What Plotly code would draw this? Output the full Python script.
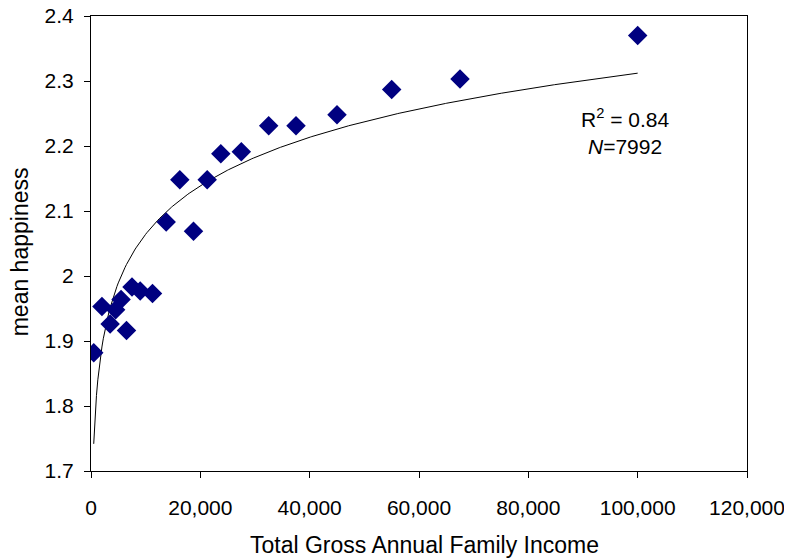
import numpy as np
import plotly.graph_objects as go

income = [500, 2000, 3500, 4500, 5500, 6500, 7500, 9000, 11250, 13750, 16250,
          18750, 21250, 23750, 27500, 32500, 37500, 45000, 55000, 67500, 100000]
happiness = [1.882, 1.953, 1.926, 1.948, 1.964, 1.916, 1.983, 1.977, 1.973, 2.083, 2.148,
             2.069, 2.148, 2.188, 2.191, 2.231, 2.231, 2.248, 2.287, 2.303, 2.370]
x_ticks = [0, 20000, 40000, 60000, 80000, 100000, 120000]
x_tick_labels = ["0", "20,000", "40,000", "60,000", "80,000", "100,000", "120,000"]
y_ticks = [1.7, 1.8, 1.9, 2.0, 2.1, 2.2, 2.3, 2.4]
y_tick_labels = ["1.7", "1.8", "1.9", "2", "2.1", "2.2", "2.3", "2.4"]

# logarithmic trendline fitted to the data
xa = np.array(income, dtype=float)
ya = np.array(happiness)
a, b = np.polyfit(np.log(xa), ya, 1)
xf = np.linspace(xa.min(), xa.max(), 400)
yf = a * np.log(xf) + b

FONT = "Liberation Sans, Arial, sans-serif"
OFF = 8  # page body margin
L, R, T, B = 90.7 - OFF, 746.7 - OFF, 16 - OFF, 471 - OFF
W, H = 792 - OFF, 558 - OFF
pw, ph = R - L, B - T

fig = go.Figure()
fig.add_trace(go.Scatter(x=xf, y=yf, mode="lines",
                         line=dict(color="black", width=1), hoverinfo="skip"))
fig.add_trace(go.Scatter(x=income, y=happiness, mode="markers",
                         marker=dict(symbol="diamond", size=15, color="#000080",
                                     line=dict(width=0))))

fig.add_annotation(x=(625 - OFF - L) / pw, y=(B - (132 - OFF)) / ph, xref="paper", yref="paper",
                   text="R<sup>2</sup> = 0.84<br><i>N</i>=7992", showarrow=False,
                   font=dict(family=FONT, size=21, color="black"), align="center",
                   xanchor="center", yanchor="middle")
fig.add_annotation(x=(424 - OFF - L) / pw, y=0, xref="paper", yref="paper",
                   yshift=-(545 - OFF - B),
                   text="Total Gross Annual Family Income", showarrow=False,
                   font=dict(family=FONT, size=23, color="black"),
                   xanchor="center", yanchor="middle")
fig.add_annotation(x=0, y=(B - (252 - OFF)) / ph, xref="paper", yref="paper",
                   xshift=(20 - OFF) - L,
                   text="mean happiness", showarrow=False, textangle=-90,
                   font=dict(family=FONT, size=23, color="black"),
                   xanchor="center", yanchor="middle")

fig.update_layout(
    width=W, height=H,
    margin=dict(l=L, r=W - R, t=T, b=H - B),
    paper_bgcolor="white", plot_bgcolor="white",
    showlegend=False,
    font=dict(family=FONT, size=21, color="black"),
    xaxis=dict(range=[0, 120000], tickvals=x_ticks, ticktext=x_tick_labels,
               showgrid=False, zeroline=False, showline=True, linecolor="black",
               linewidth=1, mirror=True, ticks="outside", ticklen=6,
               tickcolor="black", tickfont=dict(size=21), automargin=False,
               ticklabelstandoff=12, ticklabeloverflow="allow"),
    yaxis=dict(range=[1.7, 2.4], tickvals=y_ticks, ticktext=y_tick_labels,
               showgrid=False, zeroline=False, showline=True, linecolor="black",
               linewidth=1, mirror=True, ticks="outside", ticklen=6,
               tickcolor="black", tickfont=dict(size=21), automargin=False,
               ticklabelstandoff=6, ticklabeloverflow="allow"),
)

fig.write_html("out.html")
